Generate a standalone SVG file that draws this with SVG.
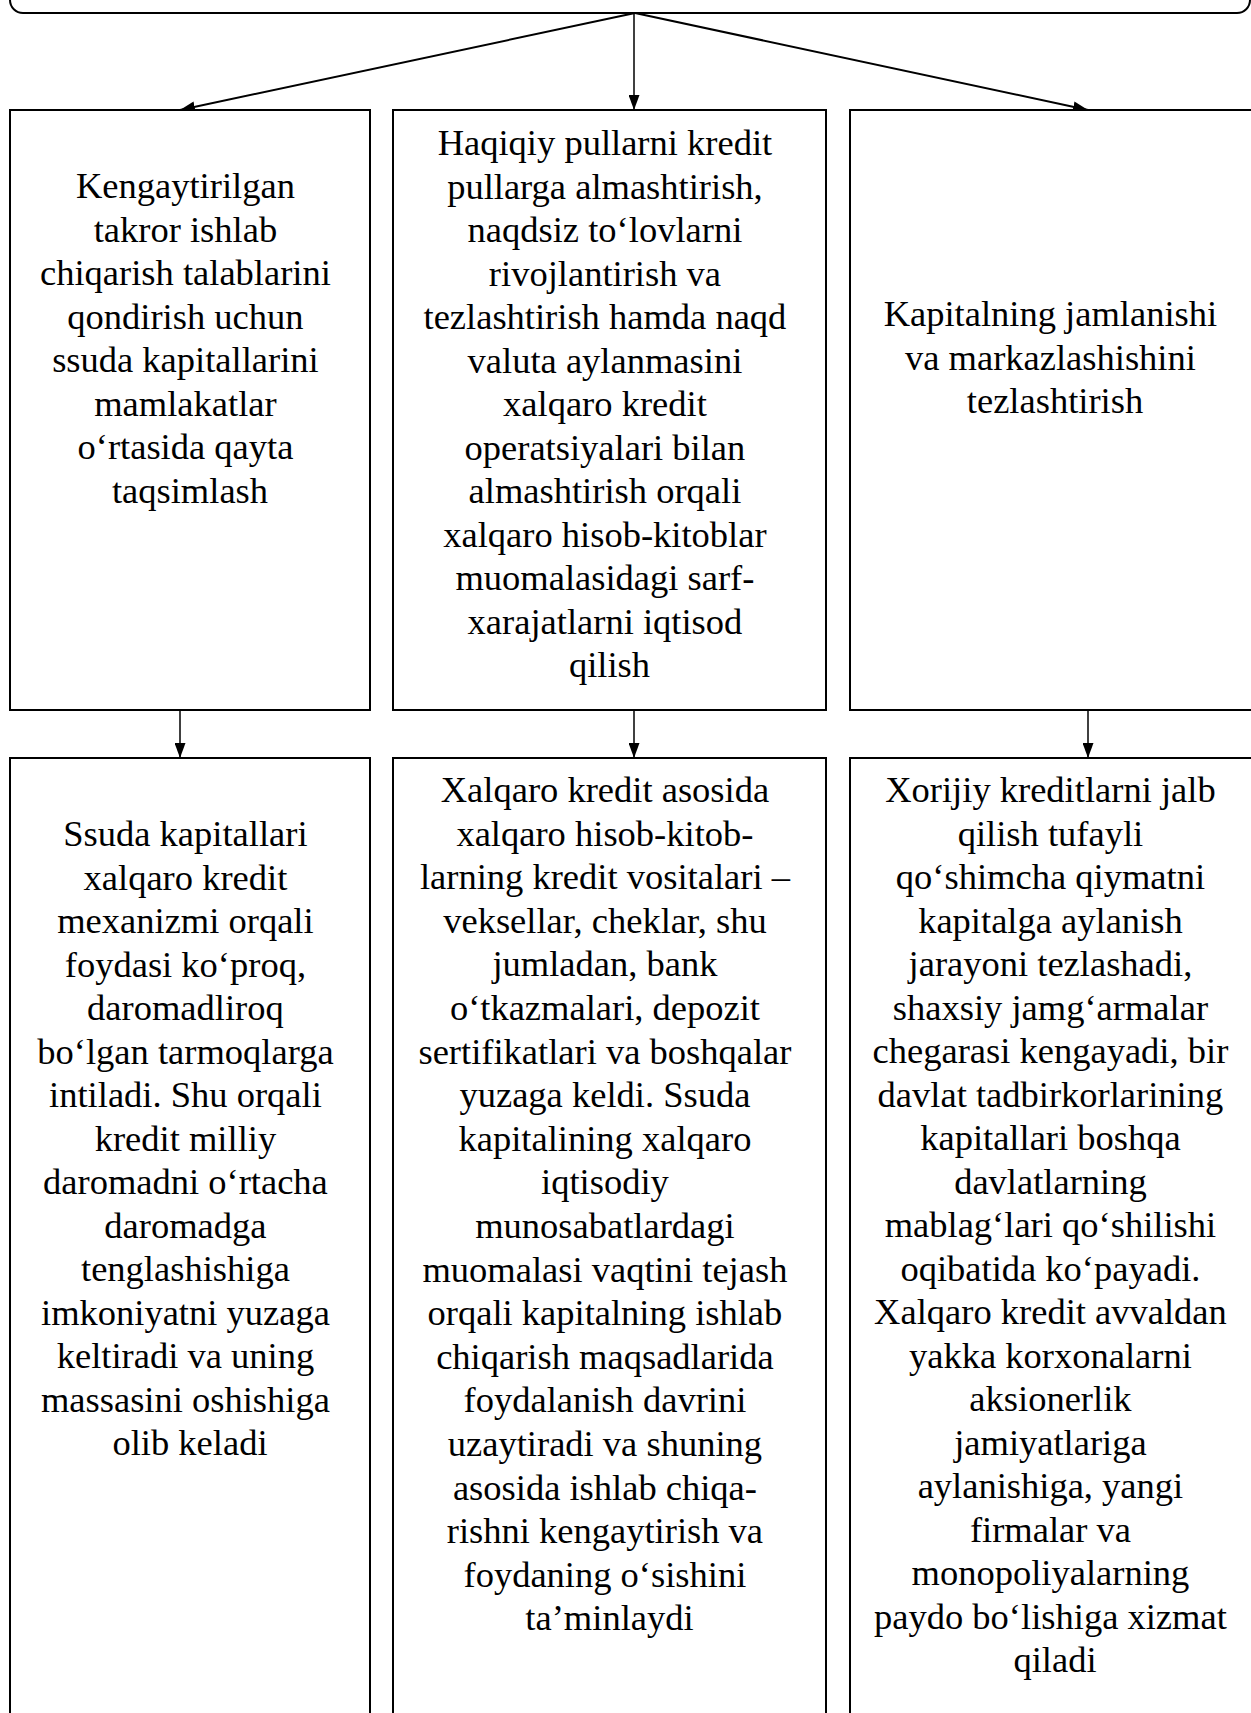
<svg xmlns="http://www.w3.org/2000/svg" width="1251" height="1713" viewBox="0 0 1251 1713">
<style>
.box{fill:#fff;stroke:#000;stroke-width:2}
.t{font-family:"Liberation Serif","Times New Roman",serif;font-size:36.5px;fill:#000;text-anchor:middle}
.c{stroke:#000;fill:none}
</style>
<defs>
<marker id="ah" markerUnits="userSpaceOnUse" markerWidth="15" markerHeight="11" refX="15" refY="5.5" orient="auto">
<path d="M0,0 L15,5.5 L0,11 Z" fill="#000"/>
</marker>
</defs>
<rect width="1251" height="1713" fill="#fff"/>
<g id="top">
<rect class="box" x="10" y="-40" width="1240" height="53" rx="13"/>
</g>
<g id="connectors">
<line class="c" stroke-width="2" x1="635" y1="13" x2="180" y2="110" marker-end="url(#ah)"/>
<line class="c" stroke-width="1.5" x1="634" y1="13" x2="634" y2="110" marker-end="url(#ah)"/>
<line class="c" stroke-width="2" x1="635" y1="13" x2="1088" y2="110" marker-end="url(#ah)"/>
<line class="c" stroke-width="1.5" x1="180" y1="710" x2="180" y2="758" marker-end="url(#ah)"/>
<line class="c" stroke-width="1.5" x1="634" y1="710" x2="634" y2="758" marker-end="url(#ah)"/>
<line class="c" stroke-width="1.5" x1="1088" y1="710" x2="1088" y2="758" marker-end="url(#ah)"/>
</g>
<g id="n1">
<rect class="box" x="10" y="110" width="360" height="600"/>
<text class="t">
<tspan x="190" y="198">Kengaytirilgan</tspan>
<tspan x="190" y="241.5">takror ishlab</tspan>
<tspan x="190" y="285">chiqarish talablarini</tspan>
<tspan x="190" y="328.5">qondirish uchun</tspan>
<tspan x="190" y="372">ssuda kapitallarini</tspan>
<tspan x="190" y="415.5">mamlakatlar</tspan>
<tspan x="190" y="459">o‘rtasida qayta</tspan>
<tspan x="190" y="502.5">taqsimlash</tspan>
</text>
</g>
<g id="n2">
<rect class="box" x="393" y="110" width="433" height="600"/>
<text class="t">
<tspan x="609.5" y="155">Haqiqiy pullarni kredit</tspan>
<tspan x="609.5" y="198.5">pullarga almashtirish,</tspan>
<tspan x="609.5" y="242">naqdsiz to‘lovlarni</tspan>
<tspan x="609.5" y="285.5">rivojlantirish va</tspan>
<tspan x="609.5" y="329">tezlashtirish hamda naqd</tspan>
<tspan x="609.5" y="372.5">valuta aylanmasini</tspan>
<tspan x="609.5" y="416">xalqaro kredit</tspan>
<tspan x="609.5" y="459.5">operatsiyalari bilan</tspan>
<tspan x="609.5" y="503">almashtirish orqali</tspan>
<tspan x="609.5" y="546.5">xalqaro hisob-kitoblar</tspan>
<tspan x="609.5" y="590">muomalasidagi sarf-</tspan>
<tspan x="609.5" y="633.5">xarajatlarni iqtisod</tspan>
<tspan x="609.5" y="677">qilish</tspan>
</text>
</g>
<g id="n3">
<rect class="box" x="850" y="110" width="420" height="600"/>
<text class="t">
<tspan x="1055" y="326">Kapitalning jamlanishi</tspan>
<tspan x="1055" y="369.5">va markazlashishini</tspan>
<tspan x="1055" y="413">tezlashtirish</tspan>
</text>
</g>
<g id="n4">
<rect class="box" x="10" y="758" width="360" height="1000"/>
<text class="t">
<tspan x="190" y="846">Ssuda kapitallari</tspan>
<tspan x="190" y="889.5">xalqaro kredit</tspan>
<tspan x="190" y="933">mexanizmi orqali</tspan>
<tspan x="190" y="976.5">foydasi ko‘proq,</tspan>
<tspan x="190" y="1020">daromadliroq</tspan>
<tspan x="190" y="1063.5">bo‘lgan tarmoqlarga</tspan>
<tspan x="190" y="1107">intiladi. Shu orqali</tspan>
<tspan x="190" y="1150.5">kredit milliy</tspan>
<tspan x="190" y="1194">daromadni o‘rtacha</tspan>
<tspan x="190" y="1237.5">daromadga</tspan>
<tspan x="190" y="1281">tenglashishiga</tspan>
<tspan x="190" y="1324.5">imkoniyatni yuzaga</tspan>
<tspan x="190" y="1368">keltiradi va uning</tspan>
<tspan x="190" y="1411.5">massasini oshishiga</tspan>
<tspan x="190" y="1455">olib keladi</tspan>
</text>
</g>
<g id="n5">
<rect class="box" x="393" y="758" width="433" height="1000"/>
<text class="t">
<tspan x="609.5" y="802">Xalqaro kredit asosida</tspan>
<tspan x="609.5" y="845.6">xalqaro hisob-kitob-</tspan>
<tspan x="609.5" y="889.2">larning kredit vositalari –</tspan>
<tspan x="609.5" y="932.8">veksellar, cheklar, shu</tspan>
<tspan x="609.5" y="976.4">jumladan, bank</tspan>
<tspan x="609.5" y="1020">o‘tkazmalari, depozit</tspan>
<tspan x="609.5" y="1063.6">sertifikatlari va boshqalar</tspan>
<tspan x="609.5" y="1107.2">yuzaga keldi. Ssuda</tspan>
<tspan x="609.5" y="1150.8">kapitalining xalqaro</tspan>
<tspan x="609.5" y="1194.4">iqtisodiy</tspan>
<tspan x="609.5" y="1238">munosabatlardagi</tspan>
<tspan x="609.5" y="1281.6">muomalasi vaqtini tejash</tspan>
<tspan x="609.5" y="1325.2">orqali kapitalning ishlab</tspan>
<tspan x="609.5" y="1368.8">chiqarish maqsadlarida</tspan>
<tspan x="609.5" y="1412.4">foydalanish davrini</tspan>
<tspan x="609.5" y="1456">uzaytiradi va shuning</tspan>
<tspan x="609.5" y="1499.6">asosida ishlab chiqa-</tspan>
<tspan x="609.5" y="1543.2">rishni kengaytirish va</tspan>
<tspan x="609.5" y="1586.8">foydaning o‘sishini</tspan>
<tspan x="609.5" y="1630.4">ta’minlaydi</tspan>
</text>
</g>
<g id="n6">
<rect class="box" x="850" y="758" width="420" height="1000"/>
<text class="t">
<tspan x="1055" y="802">Xorijiy kreditlarni jalb</tspan>
<tspan x="1055" y="845.5">qilish tufayli</tspan>
<tspan x="1055" y="889">qo‘shimcha qiymatni</tspan>
<tspan x="1055" y="932.5">kapitalga aylanish</tspan>
<tspan x="1055" y="976">jarayoni tezlashadi,</tspan>
<tspan x="1055" y="1019.5">shaxsiy jamg‘armalar</tspan>
<tspan x="1055" y="1063">chegarasi kengayadi, bir</tspan>
<tspan x="1055" y="1106.5">davlat tadbirkorlarining</tspan>
<tspan x="1055" y="1150">kapitallari boshqa</tspan>
<tspan x="1055" y="1193.5">davlatlarning</tspan>
<tspan x="1055" y="1237">mablag‘lari qo‘shilishi</tspan>
<tspan x="1055" y="1280.5">oqibatida ko‘payadi.</tspan>
<tspan x="1055" y="1324">Xalqaro kredit avvaldan</tspan>
<tspan x="1055" y="1367.5">yakka korxonalarni</tspan>
<tspan x="1055" y="1411">aksionerlik</tspan>
<tspan x="1055" y="1454.5">jamiyatlariga</tspan>
<tspan x="1055" y="1498">aylanishiga, yangi</tspan>
<tspan x="1055" y="1541.5">firmalar va</tspan>
<tspan x="1055" y="1585">monopoliyalarning</tspan>
<tspan x="1055" y="1628.5">paydo bo‘lishiga xizmat</tspan>
<tspan x="1055" y="1672">qiladi</tspan>
</text>
</g>
</svg>
